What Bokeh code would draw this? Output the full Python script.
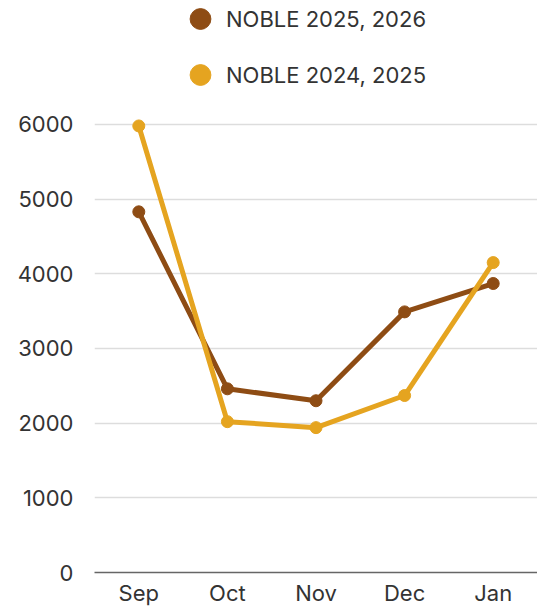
from bokeh.plotting import figure
from bokeh.models import Range1d, FixedTicker, Legend, LegendItem, ColumnDataSource
from bokeh.embed import file_html
from bokeh.resources import INLINE

months = ["Sep", "Oct", "Nov", "Dec", "Jan"]
noble_2025_2026 = [4830, 2460, 2300, 3490, 3870]
noble_2024_2025 = [5980, 2020, 1940, 2370, 4150]
series_labels = ["NOBLE 2025, 2026", "NOBLE 2024, 2025"]
y_ticks = [0, 1000, 2000, 3000, 4000, 5000, 6000]

dark = "#8E4C14"
light = "#E5A420"
text_color = "#333333"
font = "Inter"

p = figure(x_range=months, y_range=Range1d(0, 7660), width=537, height=608,
           output_backend="svg", toolbar_location=None,
           min_border_left=94, min_border_right=0, min_border_top=0, min_border_bottom=0)
p.outline_line_color = None
p.background_fill_color = "white"
p.border_fill_color = "white"

src_d = ColumnDataSource(dict(x=months, y=noble_2025_2026))
src_l = ColumnDataSource(dict(x=months, y=noble_2024_2025))

p.line("x", "y", source=src_d, line_color=dark, line_width=5)
sd = p.scatter("x", "y", source=src_d, size=12, fill_color=dark, line_color=dark)
p.line("x", "y", source=src_l, line_color=light, line_width=5)
sl = p.scatter("x", "y", source=src_l, size=12, fill_color=light, line_color=light)

p.yaxis.axis_label = None
p.yaxis.ticker = FixedTicker(ticks=y_ticks)
p.yaxis.axis_line_color = None
p.yaxis.major_tick_line_color = None
p.yaxis.major_tick_out = 0
p.yaxis.minor_tick_line_color = None
p.yaxis.major_label_standoff = 21
p.yaxis.major_label_text_font = font
p.yaxis.major_label_text_font_size = "22px"
p.yaxis.major_label_text_color = text_color

p.xaxis.axis_label = None
p.xaxis.axis_line_color = "#666666"
p.xaxis.axis_line_width = 1.5
p.xaxis.major_tick_line_color = None
p.xaxis.major_tick_out = 0
p.xaxis.minor_tick_line_color = None
p.xaxis.major_label_standoff = 7
p.xaxis.major_label_text_font = font
p.xaxis.major_label_text_font_size = "22px"
p.xaxis.major_label_text_color = text_color

p.xgrid.grid_line_color = None
p.ygrid.grid_line_color = "#DDDDDD"
p.ygrid.grid_line_width = 1.5

legend = Legend(items=[LegendItem(label=series_labels[0], renderers=[sd]),
                       LegendItem(label=series_labels[1], renderers=[sl])],
                location=(80, 470), orientation="vertical",
                glyph_width=52, glyph_height=55, label_height=24, spacing=1,
                label_standoff=0, padding=0, margin=0,
                border_line_color=None, background_fill_alpha=0,
                label_text_font=font, label_text_font_size="22px",
                label_text_color=text_color)
p.add_layout(legend, "center")

open("out.html", "w").write(file_html(p, INLINE))
